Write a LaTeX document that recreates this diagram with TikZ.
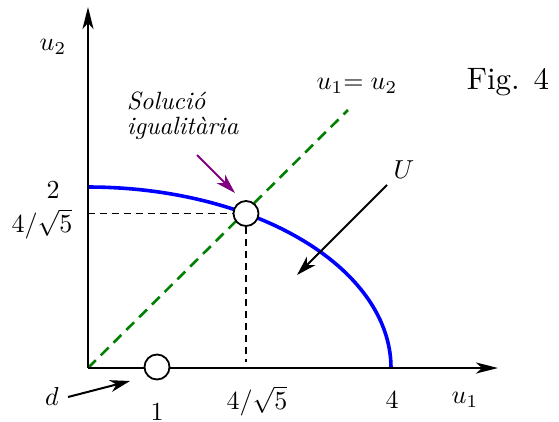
\documentclass[tikz,border=0pt]{standalone}
\usepackage{amsmath}
\usetikzlibrary{arrows.meta}
\definecolor{solgreen}{RGB}{0,128,0}
\definecolor{solpurple}{RGB}{128,0,128}
\begin{document}
\begin{tikzpicture}[x=1pt,y=-1pt,
    axis/.style={line width=2.6pt,-{Stealth[length=22pt,width=11pt,inset=6pt]}},
    guide/.style={dashed,line width=1.4pt,dash pattern=on 7pt off 5pt},
    ptdot/.style={circle,draw,line width=1.8pt,fill=white,minimum size=25pt,inner sep=0pt},
    pointer/.style={line width=2pt,-{Stealth[length=20pt,width=12pt,inset=6pt]}},
    big/.style={scale=3.1},
    mid/.style={scale=2.6}]
  \useasboundingbox (0,0) rectangle (559,421);
  \coordinate (O) at (88,368);
  \coordinate (xend) at (498,368);
  \coordinate (yend) at (88,7);
  % diagonal u1=u2
  \coordinate (diag) at (348,110);
  \draw[solgreen,line width=2.6pt,dash pattern=on 11pt off 7pt] (O) -- (diag);
  % frontier of U
  \draw[blue,line width=3.6pt] plot[domain=0:90,samples=60,smooth]
    ({88+303*cos(\x)},{368-181*sin(\x)});
  \draw[axis] (O) -- (xend);
  \draw[axis] (O) -- (yend);
  \node[ptdot] (sol) at (246,213.5) {};
  \node[ptdot] (d1) at (157,367) {};
  \draw[guide] (88,213.5) -- (sol.west);
  \draw[guide] (sol.south) -- (246,362);
  % labels
  \node[mid] (lu2) at (53,47) {$u_2$};
  \node[mid] (lu1) at (465,400) {$u_1$};
  \node[mid] (l2) at (53,190) {$2$};
  \node[mid] (lsq) at (42,224) {$4/\sqrt{5}$};
  \node[mid] (lsqx) at (257,401) {$4/\sqrt{5}$};
  \node[mid] (l4) at (392,400) {$4$};
  \node[mid] (l1) at (157,412) {$1$};
  \node[mid] (ld) at (52,396) {$d$};
  \node[mid] (lU) at (404,170) {$U$};
  \node[mid] (ldiag) at (357,86) {$u_1\mathord{=}\;u_2$};
  \node[big] (lfig) at (508,82) {Fig. 4};
  \node[scale=2.5,anchor=west,align=left] (lsol) at (118,116)
    {\itshape Soluci\'o\\[-2pt]\itshape igualit\`aria};
  % pointers
  \coordinate (solfrom) at (197,155);
  \coordinate (solto) at (235,193);
  \draw[pointer,solpurple] (solfrom) -- (solto);
  \coordinate (Ufrom) at (387,185);
  \coordinate (Uto) at (297,275);
  \draw[pointer] (Ufrom) -- (Uto);
  \coordinate (dfrom) at (68,397);
  \coordinate (dto) at (130,381);
  \draw[pointer] (dfrom) -- (dto);
\end{tikzpicture}
\end{document}
